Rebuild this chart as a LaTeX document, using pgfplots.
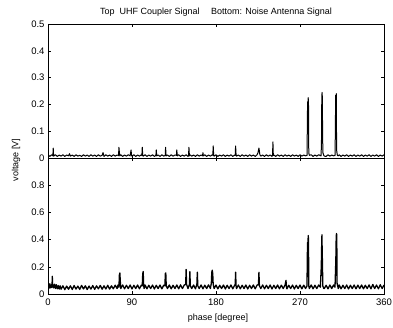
\documentclass[border=0pt]{standalone}
\usepackage{pgfplots}
\pgfplotsset{compat=1.18}
\usepackage{fontspec}
\setmainfont{Liberation Sans}
\begin{document}
\begin{tikzpicture}
\useasboundingbox (0,0) rectangle (393pt,328pt);
\pgfplotsset{myax/.style={scale only axis, width=336pt, anchor=south west,
  xmin=0, xmax=360, xtick={0,90,180,270,360},
  tick style={black, line width=0.5pt}, major tick length=3pt,
  axis line style={line width=0.8pt},
  ticklabel style={font=\fontsize{9.5}{11}\selectfont},
  /pgf/number format/assume math mode=true}}
\begin{axis}[myax, at={(48pt,170pt)}, height=134pt, ymin=0, ymax=0.5,
  ytick={0,0.1,0.2,0.3,0.4,0.5}, xticklabels={}]
\addplot[black, line width=1pt, line join=round, no marks] coordinates {
(0,.012)(2,.006)(4,.012)(5.2,.008)(5.6,.037)(6,.007)(8,.012)(10,.006)(12,.011)(14,.007)(16,.012)(18,.006)(20,.011)(22,.008)(23,.016)(24,.007)(26,.011)(28,.006)(30,.012)(32,.007)(34,.010)(36,.006)(38,.012)(40,.007)(42,.011)(44,.006)(46,.012)(48,.007)(50,.011)(52,.006)(54,.012)(56,.007)(58,.010)(59,.02)(60,.006)(62,.012)(64,.007)(66,.011)(68,.006)(70,.012)(72,.007)(74,.011)(75.6,.009)(76,.04)(76.5,.02)(77,.008)(78,.012)(80,.006)(82,.011)(84,.007)(86,.012)(88,.008)(89,.03)(89.5,.01)(90,.007)(92,.012)(94,.006)(96,.011)(98,.007)(100,.012)(100.6,.009)(101,.04)(101.5,.01)(102,.007)(104,.012)(106,.006)(108,.011)(110,.007)(112,.012)(114,.006)(115.6,.01)(116,.03)(116.5,.008)(118,.011)(120,.006)(122,.012)(124,.007)(125.6,.01)(126,.04)(126.5,.008)(128,.011)(130,.006)(132,.012)(134,.007)(136,.011)(137.6,.01)(138,.03)(138.5,.008)(140,.012)(142,.006)(144,.011)(146,.007)(148,.012)(150,.006)(150.6,.01)(151,.04)(151.5,.008)(152,.012)(154,.007)(156,.011)(158,.006)(160,.012)(162,.007)(164,.011)(165.6,.008)(166,.02)(166.5,.008)(168,.012)(170,.006)(172,.011)(174,.007)(176,.012)(176.6,.01)(177,.045)(177.5,.01)(178,.007)(180,.012)(182,.006)(184,.011)(186,.007)(188,.012)(190,.006)(192,.011)(194,.007)(196,.012)(198,.006)(200,.011)(200.6,.01)(201,.045)(201.5,.012)(202,.007)(204,.011)(206,.006)(208,.012)(210,.007)(212,.011)(214,.006)(216,.012)(218,.007)(220,.011)(222,.006)(224,.012)(225,.02)(225.6,.03)(226,.037)(226.5,.025)(227,.012)(228,.007)(230,.011)(232,.006)(234,.012)(236,.007)(238,.011)(240,.006)(240.6,.012)(241,.06)(241.4,.01)(242,.011)(244,.006)(246,.012)(248,.007)(250,.011)(252,.006)(254,.012)(256,.007)(258,.011)(260,.006)(262,.012)(264,.007)(266,.011)(268,.006)(270,.012)(272,.007)(274,.011)(276,.008)(277.6,.01)(277.9,.15)(278.2,.21)(278.5,.18)(278.8,.225)(279.1,.2)(279.4,.02)(280,.01)(282,.012)(284,.006)(286,.011)(288,.007)(290,.012)(292.5,.008)(293,.05)(293.3,.2)(293.6,.245)(293.9,.23)(294.2,.1)(294.5,.02)(295.5,.01)(296,.007)(298,.006)(300,.012)(302,.007)(304,.011)(306,.008)(307.6,.01)(308,.15)(308.3,.235)(308.6,.2)(308.9,.24)(309.2,.03)(310,.01)(311,.008)(312,.012)(314,.006)(316,.011)(318,.007)(320,.012)(322,.006)(324,.011)(326,.007)(328,.012)(330,.006)(332,.011)(334,.007)(336,.012)(338,.006)(340,.011)(342,.007)(344,.012)(346,.006)(348,.011)(350,.007)(352,.012)(354,.006)(356,.011)(358,.007)(360,.012)
};
\end{axis}
\begin{axis}[myax, at={(48pt,34pt)}, height=136pt, ymin=0, ymax=1,
  ytick={0,0.2,0.4,0.6,0.8}, xticklabel style={yshift=-1.5pt}]
\addplot[black, line width=1.3pt, line join=round, no marks] coordinates {
(0,.07)(1,.04)(2,.075)(3,.045)(4,.07)(4.3,.05)(4.6,.13)(5,.06)(6,.045)(7,.072)(8,.04)(9,.068)(10,.038)(11,.062)(12,.036)(13,.06)(14,.035)(16,.06)(18,.032)(20,.058)(22,.035)(24,.06)(26,.033)(28,.062)(30,.036)(32,.058)(34,.034)(36,.063)(38,.037)(40,.06)(42,.033)(44,.058)(46,.036)(48,.062)(50,.034)(52,.06)(54,.038)(56,.063)(58,.035)(60,.06)(62,.037)(64,.064)(66,.036)(68,.06)(70,.038)(72,.065)(74,.04)(75,.066)(76,.05)(76.5,.14)(77,.155)(77.5,.09)(78,.04)(80,.066)(82,.038)(84,.064)(86,.04)(88,.066)(90,.037)(92,.064)(94,.04)(96,.066)(98,.038)(100,.065)(101,.06)(101.5,.15)(102,.165)(102.5,.06)(103,.04)(104,.066)(106,.038)(108,.064)(110,.04)(112,.066)(114,.037)(116,.064)(118,.04)(120,.066)(122,.038)(124,.065)(125.3,.06)(125.7,.15)(126.2,.155)(126.7,.06)(128,.04)(130,.066)(132,.038)(134,.064)(136,.04)(138,.066)(140,.038)(142,.067)(144,.04)(146,.066)(147.5,.07)(148,.18)(148.5,.07)(150,.04)(151.5,.07)(152,.165)(152.5,.06)(154,.04)(156,.066)(158,.038)(159.5,.07)(160,.16)(160.5,.06)(162,.04)(164,.066)(166,.038)(168,.065)(170,.04)(172,.067)(174,.04)(175,.08)(175.5,.16)(176,.175)(176.5,.15)(177,.07)(178,.04)(180,.066)(182,.038)(184,.064)(186,.04)(188,.066)(190,.037)(192,.064)(194,.04)(196,.066)(198,.038)(200,.065)(200.6,.07)(201,.16)(201.5,.06)(202,.04)(204,.066)(206,.038)(208,.064)(210,.04)(212,.066)(214,.037)(216,.064)(218,.04)(220,.066)(222,.038)(224,.065)(225.5,.07)(226,.16)(226.5,.06)(228,.04)(230,.066)(232,.038)(234,.064)(236,.04)(238,.066)(240,.037)(242,.064)(244,.04)(246,.066)(248,.038)(250,.065)(252,.04)(254,.066)(255,.1)(255.5,.05)(256,.038)(258,.064)(260,.04)(262,.066)(264,.037)(266,.064)(268,.04)(270,.066)(272,.038)(274,.065)(276,.04)(277.5,.06)(277.9,.3)(278.2,.38)(278.5,.35)(278.8,.43)(279.1,.4)(279.4,.06)(280,.04)(282,.066)(284,.038)(286,.064)(288,.04)(290,.066)(291.8,.05)(292.8,.2)(293.2,.35)(293.5,.435)(293.8,.3)(294.1,.22)(294.4,.06)(295.5,.04)(296,.04)(298,.064)(300,.038)(302,.066)(304,.04)(306,.066)(307.5,.05)(308.4,.25)(308.8,.42)(309.1,.445)(309.4,.43)(309.7,.08)(311,.04)(312,.066)(314,.038)(316,.064)(318,.04)(320,.066)(322,.037)(324,.064)(326,.04)(328,.066)(330,.038)(332,.065)(334,.04)(336,.066)(338,.038)(340,.064)(342,.04)(344,.067)(346,.038)(348,.07)(350,.04)(352,.066)(354,.038)(356,.068)(358,.04)(360,.066)
};
\end{axis}
\node[font=\fontsize{9}{11}\selectfont] at (216pt,316pt) {Top\ \ UHF Coupler Signal\quad\ Bottom: Noise Antenna Signal};
\node[font=\fontsize{9}{11}\selectfont, rotate=90] at (16pt,168pt) {voltage [V]};
\node[font=\fontsize{9}{11}\selectfont] at (218pt,10pt) {phase [degree]};
\end{tikzpicture}
\end{document}
